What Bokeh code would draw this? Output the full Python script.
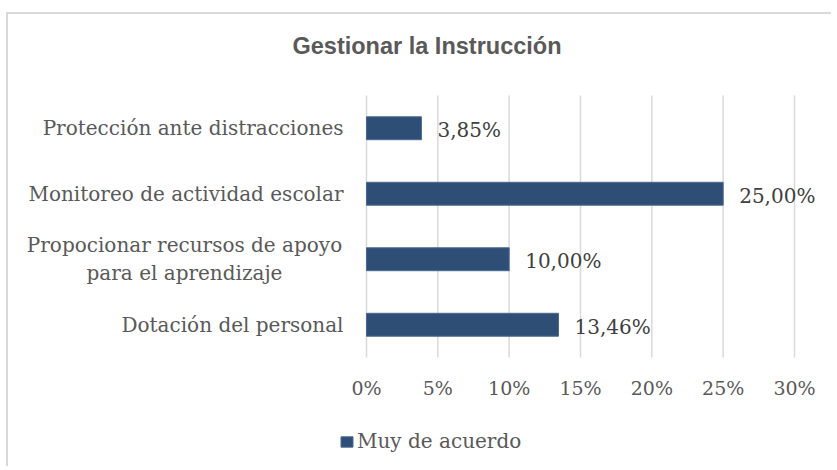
from bokeh.plotting import figure
from bokeh.models import Range1d, Legend, LegendItem, ColumnDataSource
from bokeh.embed import file_html
from bokeh.resources import INLINE
from bokeh.core.properties import value

title_text = "Gestionar la Instrucción"
categories = ["Dotación del personal",
              "Propocionar recursos de apoyo\npara el aprendizaje",
              "Monitoreo de actividad escolar",
              "Protección ante distracciones"]
values = [0.1346, 0.10, 0.25, 0.0385]
value_labels = ["13,46%", "10,00%", "25,00%", "3,85%"]
series_name = "Muy de acuerdo"
x_ticks = [0, 0.05, 0.10, 0.15, 0.20, 0.25, 0.30]
x_tick_labels = ["0%", "5%", "10%", "15%", "20%", "25%", "30%"]

SERIF = "DejaVu Serif"
TXT = "#595959"
BAR = "#2F4E75"
GRID = "#d9d9d9"

W, H = 825, 454
# chart area inside the canvas (pixels)
AX_L, AX_R_VAL_PX = 358, 1426.67      # x pixel of 0 and pixels per unit (100%)
AX_T, AX_B = 81, 343
n = len(categories)
py = (AX_B - AX_T) / n

x_range = Range1d(-AX_L / AX_R_VAL_PX, (W - AX_L) / AX_R_VAL_PX)
y_range = Range1d(-(H - AX_B) / py, n + AX_T / py)

p = figure(width=W, height=H, output_backend="svg", toolbar_location=None,
           x_range=x_range, y_range=y_range, title=None,
           min_border=0, min_border_left=0, min_border_right=0,
           min_border_top=0, min_border_bottom=0)
p.styles = {"border-top": "2px solid #d9d9d9", "border-left": "2px solid #d9d9d9",
            "margin-top": "12px", "margin-left": "6px"}
p.outline_line_color = None
p.background_fill_color = "white"
p.border_fill_color = "white"
p.xaxis.visible = False
p.yaxis.visible = False
p.xgrid.visible = False
p.ygrid.visible = False

ypos = [i + 0.5 for i in range(n)]

# vertical gridlines
p.segment(x0=x_ticks, y0=[0] * len(x_ticks), x1=x_ticks, y1=[n] * len(x_ticks),
          line_color=GRID, line_width=1.5)

src = ColumnDataSource(dict(y=ypos, val=values, lab=value_labels))
r = p.hbar(y="y", right="val", left=0, height=0.35, source=src,
           fill_color=BAR, line_color="#4a6a93", line_width=1)

# value labels
p.text(x="val", y="y", text="lab", source=src, x_offset=16, y_offset=2,
       text_font=value(SERIF), text_font_size="20px", text_color="#404040",
       text_baseline="middle", text_align="left")

# x tick labels
p.text(x=x_ticks, y=[0] * len(x_ticks), text=x_tick_labels, y_offset=30,
       text_font=value(SERIF), text_font_size="19px", text_color=TXT,
       text_baseline="middle", text_align="center")

# category labels
single = [(c, yy) for c, yy in zip(categories, ypos) if "\n" not in c]
multi = [(c, yy) for c, yy in zip(categories, ypos) if "\n" in c]
p.text(x=[0] * len(single), y=[s[1] for s in single], text=[s[0] for s in single],
       x_offset=-23, text_font=value(SERIF), text_font_size="20px", text_color=TXT,
       text_baseline="middle", text_align="right")
p.text(x=[0] * len(multi), y=[m[1] for m in multi], text=[m[0] for m in multi],
       x_offset=-182, text_font=value(SERIF), text_font_size="20px", text_color=TXT,
       text_baseline="middle", text_align="center", text_line_height=1.15)

# title
p.text(x=[(426.5 - 8 - AX_L) / AX_R_VAL_PX], y=[n], text=[title_text], y_offset=-(AX_T - 31),
       text_font=value("Liberation Sans"), text_font_style="bold", text_font_size="23.5px",
       text_color=TXT, text_baseline="middle", text_align="center")

legend = Legend(items=[LegendItem(label=series_name, renderers=[r])],
                location=(331, 15), padding=0, margin=0, border_line_color=None,
                background_fill_alpha=0, glyph_width=15, glyph_height=13,
                label_standoff=3, label_height=22,
                label_text_font=SERIF, label_text_font_size="20px", label_text_color=TXT)
p.add_layout(legend)

open("out.html", "w").write(file_html(p, INLINE))
